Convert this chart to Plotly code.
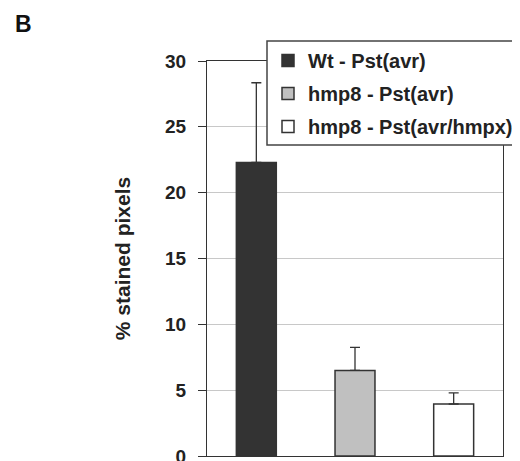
import plotly.graph_objects as go

categories = ["Wt - Pst(avr)", "hmp8 - Pst(avr)", "hmp8 - Pst(avr/hmpx)"]
values = [22.3, 6.5, 3.95]
errors = [6.05, 1.75, 0.85]
colors = ["#333333", "#c0c0c0", "#ffffff"]
y_ticks = [0, 5, 10, 15, 20, 25, 30]

fig = go.Figure()
for i, (name, v, e, c) in enumerate(zip(categories, values, errors, colors)):
    fig.add_trace(go.Bar(
        x=[i], y=[v], name=name, width=0.405,
        marker=dict(color=c, line=dict(color="#333333", width=1.5)),
        error_y=dict(type="data", symmetric=False, array=[e], arrayminus=[0],
                     color="#333333", thickness=1.3, width=5),
        legendgroup=name,
    ))

# page body has an 8px margin; compensate so the figure lands where intended
OFF = 8
W, H = 520 - OFF, 461 - OFF
L, R, T, B = 207 - OFF, 17, 61 - OFF, 5
pw, ph = W - L - R, H - T - B

def px_x(p):
    return (p - OFF - L) / pw

def px_y(p):
    return (H - B - (p - OFF)) / ph

fig.update_layout(
    width=W, height=H,
    margin=dict(l=L, r=R, t=T, b=B, autoexpand=False),
    paper_bgcolor="white", plot_bgcolor="white",
    barmode="overlay",
    font=dict(family="Liberation Sans, Arial", color="#222222"),
    showlegend=True,
    legend=dict(
        x=px_x(268), y=px_y(41), xanchor="left", yanchor="top",
        bgcolor="rgba(0,0,0,0)", borderwidth=0,
        font=dict(size=20, family="Liberation Sans, Arial", color="#222222", weight="bold"),
        tracegroupgap=4, itemwidth=30,
    ),
    xaxis=dict(range=[-0.5, 2.5], showticklabels=False, ticks="", showgrid=False,
               showline=True, linecolor="#333333", linewidth=1.2, mirror=True,
               zeroline=False, fixedrange=True),
    yaxis=dict(range=[0, 30], tickvals=y_ticks, ticks="outside", ticklen=8,
               tickcolor="#333333", tickwidth=1.2, ticklabelstandoff=8,
               ticklabeloverflow="allow",
               showgrid=True, gridcolor="#c8c8c8", gridwidth=1,
               showline=True, linecolor="#333333", linewidth=1.2, mirror=True,
               zeroline=False,
               tickfont=dict(size=19, family="Liberation Sans, Arial", color="#222222", weight="bold"),
               title=dict(text="% stained pixels", standoff=28,
                          font=dict(size=21, family="Liberation Sans, Arial", color="#222222", weight="bold"))),
    shapes=[dict(type="rect", xref="paper", yref="paper",
                 x0=px_x(267), x1=px_x(560), y0=px_y(145), y1=px_y(41),
                 line=dict(color="#444444", width=1.5), fillcolor="white", layer="above")],
    annotations=[dict(text="<b>B</b>", xref="paper", yref="paper", x=px_x(13), y=px_y(9),
                      xanchor="left", yanchor="top", showarrow=False,
                      font=dict(size=23, family="Liberation Sans, Arial", color="#111111"))],
)

fig.write_html("out.html")
